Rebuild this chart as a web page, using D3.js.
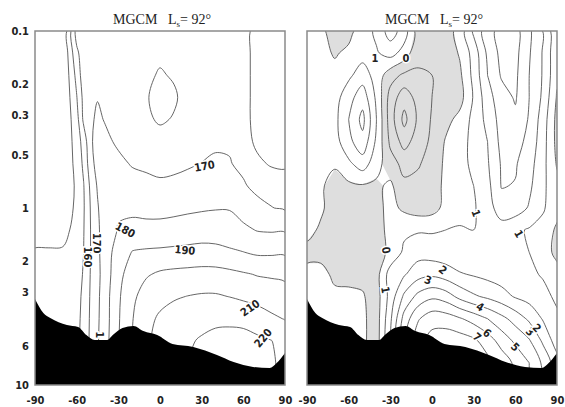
<!DOCTYPE html>
<html>
<head>
<meta charset="utf-8">
<script src="https://cdn.jsdelivr.net/npm/d3@7"></script>
<style>
  body { margin: 0; background: #fff; }
  .tick text, .lab { font-family: "Liberation Sans Narrow", "DejaVu Sans Condensed", sans-serif; font-weight: bold; }
  .title { font-family: "Liberation Serif", "DejaVu Serif", serif; }
</style>
</head>
<body>
<svg id="chart" width="565" height="407"></svg>
<script>
// grid columns (latitude) and rows (pressure, hPa)
var latL = [-90, -80, -70, -60, -55, -50, -45, -40, -30, -20, -10, 0, 10, 20, 30, 40, 50, 60, 70, 80, 90];
var latR = [-90, -80, -70, -60, -50, -40, -30, -20, -10, 0, 10, 20, 30, 40, 50, 60, 70, 80, 90];
var pLevels = [0.1, 0.133, 0.178, 0.237, 0.316, 0.422, 0.562, 0.75, 1, 1.33, 1.78, 2.37, 3.16, 4.22, 5.62, 7.5, 10];

// left panel: temperature (K), one row per pressure level
var tempL = [
  [128, 129, 130, 164, 166, 167, 168, 167, 166, 165, 164, 164, 164, 165, 165, 165, 166, 168, 172, 173, 173],
  [129, 129, 130, 158, 165, 167, 168, 167, 166, 165, 163, 162, 163, 164, 165, 165, 166, 168, 172, 173, 173],
  [130, 130, 130, 153, 166, 168, 169, 168, 166, 164, 162, 159, 161, 163, 165, 165, 166, 168, 172, 173, 173],
  [130, 130, 130, 149.5, 163, 168, 169.5, 168, 166, 164, 161, 156, 158.5, 164, 165, 165, 166, 168, 172, 173, 173],
  [131, 131, 131, 146, 162, 168, 172, 169.5, 166, 164, 162, 158.5, 160.8, 163, 165, 165.5, 166.5, 168, 172, 173, 173],
  [131, 131, 131, 144.5, 154, 168, 175, 173, 168, 166, 165, 164.5, 165, 166, 167, 168.5, 169, 168, 171, 172, 172],
  [132, 132, 132, 143, 152, 166, 174, 176, 173, 169, 168, 167.5, 168, 169, 170.2, 171.5, 170.5, 168, 169, 170.5, 171],
  [133, 133, 133, 141.5, 149.5, 162, 171, 175, 176, 175, 173, 171.5, 172, 173, 174, 175, 174, 171, 167.5, 167, 167],
  [134, 134, 134, 142, 149, 160.5, 169, 176, 179, 178.5, 178, 178, 178, 178.5, 179, 179.5, 179.5, 176, 173, 170.3, 169],
  [136, 136, 137, 143, 149.5, 160, 168, 175, 180.5, 182, 182, 182, 183, 184, 185, 185, 184, 182, 179.5, 179, 179],
  [141, 141, 141, 144, 150, 160, 167, 176.5, 183, 190.5, 191.5, 192, 192.5, 193, 193.5, 193, 191.5, 190.2, 188.5, 188.5, 188.5],
  [144, 144, 144, 145, 151, 160.5, 167.5, 174, 187, 195, 199, 201.5, 202.5, 203, 203.5, 203.5, 202.5, 201, 199.5, 199, 198.5],
  [146, 146, 146, 146, 152.5, 161, 168, 175, 188.5, 198, 204, 207, 209, 210.2, 211, 211, 209.8, 208, 206, 204.5, 203],
  [147, 147, 147, 147, 153, 161.5, 168.5, 175, 189, 199.5, 207, 211.5, 214, 216, 217.5, 218.5, 218.5, 218, 216, 212, 209.5],
  [148, 148, 148, 148, 153, 162, 169, 175.5, 189.5, 200, 208, 214, 217, 219, 220.8, 222, 222.5, 222.5, 221.5, 220.2, 217],
  [148, 148, 148, 148, 153, 162, 169, 176, 190, 200, 208, 215, 218, 220, 222, 223.5, 224, 224, 223, 221, 218],
  [148, 148, 148, 148, 153, 162, 169, 176, 190, 200, 208, 215, 218, 220, 222, 223.5, 224, 224, 223, 221, 218]
];

// right panel: difference field (K), negative areas shaded
var diffR = [
  [0.4, 0.2, -0.4, -0.3, 0.5, 1.2, 2.5, 1.5, -0.5, -0.8, -0.5, 0.4, 2.2, 3.6, 4.4, 4.4, 3.2, 1.95, 0.2],
  [0.4, 0.3, -0.1, 0.2, 0.6, 0.9, 1.4, 0.6, -0.8, -1.0, -0.6, 0.1, 1.4, 3.2, 4.3, 4.3, 3.1, 1.9, 0.2],
  [0.4, 0.4, 0.3, 0.8, 1.5, 0.6, -0.6, -1.2, -1.1, -1.0, -0.6, -0.2, 1.3, 3.0, 4.1, 4.2, 3.0, 1.9, 0.2],
  [0.4, 0.5, 0.6, 1.6, 2.6, 0.8, -1.4, -2.6, -1.6, -1.0, -0.5, -0.4, 1.1, 2.6, 3.6, 4.1, 3.0, 1.8, -0.1],
  [0.4, 0.5, 0.7, 2.0, 3.3, 1.0, -1.5, -3.3, -1.8, -0.9, -0.3, 0.3, 1.3, 2.3, 3.4, 3.8, 2.9, 1.5, -0.3],
  [0.3, 0.4, 0.6, 1.7, 2.7, 0.8, -1.2, -2.4, -1.5, -0.8, 0.1, 0.6, 1.3, 2.0, 3.3, 3.4, 2.7, 1.4, -0.3],
  [0.3, 0.2, 0.1, 0.8, 1.5, 0.4, -0.6, -1.3, -1.1, -0.6, 0.2, 0.7, 1.2, 1.9, 3.1, 3.1, 2.4, 1.3, -0.1],
  [0.3, 0.1, -0.3, -0.2, -0.1, -0.2, 0.2, -0.8, -0.7, -0.4, 0.2, 0.6, 1.0, 1.7, 3.05, 2.95, 2.2, 1.2, 0.3],
  [0.2, 0.1, -0.3, -0.4, -0.3, -0.3, 0.3, -0.2, -0.5, -0.4, 0.3, 0.6, 0.9, 1.5, 2.6, 2.5, 1.9, 1.1, 0.4],
  [0.2, -0.1, -0.4, -0.5, -0.4, -0.4, 0.3, 0.8, 0.9, 0.9, 1.0, 1.1, 1.0, 1.2, 1.5, 1.2, 0.9, 0.7, -0.2],
  [-0.2, -0.3, -0.5, -0.5, -0.4, -0.4, 0.2, 1.2, 1.6, 1.5, 1.4, 1.2, 1.1, 1.1, 1.1, 1.1, 1.0, 0.5, -0.3],
  [0.2, 0.3, -0.2, -0.4, -0.3, -0.4, 1.5, 1.9, 2.6, 2.8, 2.5, 2.1, 1.9, 1.7, 1.5, 1.4, 1.2, 0.9, 0.4],
  [0.4, 0.3, 0.2, 0.3, 0.1, -0.5, 1.4, 3.2, 4.3, 4.8, 4.5, 3.7, 3.15, 2.8, 2.4, 1.9, 1.6, 1.3, 0.8],
  [0.4, 0.4, 0.3, 0.4, 0.2, -0.5, 1.8, 4.4, 5.9, 6.6, 6.5, 6.1, 5.6, 5.0, 4.3, 3.6, 2.8, 1.9, 1.2],
  [0.4, 0.4, 0.4, 0.4, 0.2, -0.5, 2.0, 5.0, 6.6, 7.4, 7.6, 7.5, 7.2, 6.5, 5.6, 4.8, 4.1, 2.8, 1.5],
  [0.4, 0.4, 0.4, 0.4, 0.2, -0.5, 2.0, 5.0, 6.8, 7.6, 8.0, 8.0, 7.8, 7.3, 6.6, 5.8, 5.0, 3.8, 2.4],
  [0.4, 0.4, 0.4, 0.4, 0.2, -0.5, 2.0, 5.0, 6.8, 7.6, 8.0, 8.0, 7.8, 7.3, 6.6, 5.8, 5.0, 3.8, 2.4]
];

var tempLevels = [140, 150, 160, 170, 180, 190, 200, 210, 220];
var diffLevels = [-3, -2, -1, 0, 1, 2, 3, 4, 5, 6, 7];

// surface pressure along latitude
var topoLat = [-90, -84, -79, -67, -59, -53, -47, -38, -34, -27, -19, -12, -2, 9, 24, 41, 53, 67, 79, 84, 90];
var topoP = [3.27, 3.92, 4.18, 4.58, 4.70, 5.22, 5.57, 5.57, 5.22, 4.77, 4.64, 4.96, 5.22, 5.86, 6.09, 6.77, 7.42, 7.91, 8.02, 7.52, 6.59];

// contour labels
var tempLabLat = [32, -25, -45.4, -51.8, 18, 64.8, 74.2, -43.2];
var tempLabP = [0.58, 1.33, 1.58, 1.89, 1.73, 3.67, 5.42, 5.2];
var tempLabText = ["170", "180", "170", "160", "190", "210", "220", "1"];
var tempLabAngle = [-10, 28, 90, 90, 5, -35, -50, 90];

var diffLabLat = [-41, -18.7, -33, -33.5, 7.9, -2.9, 34.6, 39.6, 32.4, 59.8, 70.6, 75.6, 31.7, 62.5];
var diffLabP = [0.142, 0.142, 1.73, 2.9, 2.24, 2.55, 3.62, 5.08, 5.36, 6.1, 5.0, 4.76, 1.07, 1.4];
var diffLabText = ["1", "0", "0", "1", "2", "3", "4", "6", "7", "5", "3", "2", "1", "1"];
var diffLabAngle = [0, 0, 80, 80, 40, 20, 30, 40, 40, 45, 45, 45, 70, 60];

var yTicks = [0.1, 0.2, 0.3, 0.5, 1, 2, 3, 6, 10];
var xTicks = [-90, -60, -30, 0, 30, 60, 90];

var svg = d3.select("#chart");
var yTop = 31, yBottom = 385;
var yScale = d3.scaleLog().domain([0.1, 10]).range([yTop, yBottom]);

function drawPanel(px0, px1, id, lats, rows, levels, shade, labLat, labP, labText, labAngle, showY) {
    var x = d3.scaleLinear().domain([-90, 90]).range([px0, px1]);
    var nx = lats.length, ny = rows.length;
    // grid index -> screen position (value i sits at i + 0.5)
    var gx = d3.scaleLinear().domain(d3.range(nx).map(function(i) { return i + 0.5; })).range(lats.map(x));
    var gy = d3.scaleLinear().domain(d3.range(ny).map(function(j) { return j + 0.5; })).range(pLevels.map(yScale));
    var flat = [].concat.apply([], rows);

    svg.append("clipPath").attr("id", id)
        .append("rect").attr("x", px0).attr("y", yTop).attr("width", px1 - px0).attr("height", yBottom - yTop);

    var g = svg.append("g").attr("clip-path", "url(#" + id + ")");

    // shaded negative areas
    if (shade) {
        var neg = d3.contours().size([nx, ny]).thresholds([0])(flat.map(function(v) { return -v; }));
        var proj = d3.geoTransform({ point: function(a, b) { this.stream.point(gx(a), gy(b)); } });
        g.append("path")
            .attr("d", d3.geoPath(proj)(neg[0]))
            .attr("fill", "#dedede");
    }

    // contour lines, boundary pieces removed
    var onB = function(p) { return p[0] <= 0 || p[0] >= nx || p[1] <= 0 || p[1] >= ny; };
    var open = d3.line().curve(d3.curveCatmullRom.alpha(0.5));
    var closed = d3.line().curve(d3.curveCatmullRomClosed.alpha(0.5));
    var paths = [];
    d3.contours().size([nx, ny]).thresholds(levels)(flat).forEach(function(c) {
        c.coordinates.forEach(function(poly) {
            poly.forEach(function(ring) {
                var pts = ring.slice(0, ring.length - 1);
                var n = pts.length;
                var s = -1;
                for (var i = 0; i < n; i++) { if (onB(pts[i])) { s = i; break; } }
                var xy = function(p) { return [gx(p[0]), gy(p[1])]; };
                if (s < 0) {
                    paths.push(closed(pts.map(xy)));
                    return;
                }
                var run = [];
                for (var k = 0; k < n; k++) {
                    var a = pts[(s + k) % n], b = pts[(s + k + 1) % n];
                    if (onB(a) && onB(b)) {
                        if (run.length > 1) paths.push(open(run));
                        run = [];
                    } else {
                        if (!run.length) run.push(xy(a));
                        run.push(xy(b));
                    }
                }
                if (run.length > 1) paths.push(open(run));
            });
        });
    });
    g.selectAll("path.c").data(paths).enter().append("path")
        .attr("class", "c")
        .attr("d", function(d) { return d; })
        .attr("fill", "none")
        .attr("stroke", "#555")
        .attr("stroke-width", 0.9);

    // contour labels with a white halo that breaks the line
    g.selectAll("text.lab").data(labText).enter().append("text")
        .attr("class", "lab")
        .attr("transform", function(d, i) {
            return "translate(" + x(labLat[i]) + "," + yScale(labP[i]) + ") rotate(" + labAngle[i] + ")";
        })
        .attr("text-anchor", "middle")
        .attr("dy", "0.35em")
        .attr("font-size", 11)
        .attr("fill", "#222")
        .attr("stroke", "#fff")
        .attr("stroke-width", 3)
        .attr("paint-order", "stroke")
        .text(function(d) { return d; });

    // surface
    var area = d3.area()
        .x(function(d, i) { return x(topoLat[i]); })
        .y0(yBottom)
        .y1(function(d) { return yScale(d); })
        .curve(d3.curveMonotoneX);
    g.append("path").attr("d", area(topoP)).attr("fill", "#000");

    // frame
    svg.append("rect")
        .attr("x", px0).attr("y", yTop).attr("width", px1 - px0).attr("height", yBottom - yTop)
        .attr("fill", "none").attr("stroke", "#8a8a8a").attr("stroke-width", 1.5);

    var xAxis = svg.append("g").attr("transform", "translate(0," + yBottom + ")")
        .call(d3.axisBottom(x).tickValues(xTicks).tickFormat(function(d) { return String(d); }).tickSize(0).tickPadding(11));
    xAxis.select(".domain").remove();
    xAxis.selectAll("text").attr("font-size", 11).attr("fill", "#222");

    if (showY) {
        var yAxis = svg.append("g").attr("transform", "translate(" + px0 + ",0)")
            .call(d3.axisLeft(yScale).tickValues(yTicks).tickFormat(function(d) { return String(d); }).tickSize(0).tickPadding(6));
        yAxis.select(".domain").remove();
        yAxis.selectAll("text").attr("font-size", 11).attr("fill", "#222");
    }

    // title
    var cx = (px0 + px1) / 2 - 47;
    var t = svg.append("text").attr("class", "title").attr("y", 24)
        .attr("font-size", 14).attr("fill", "#222");
    t.append("tspan").attr("x", cx).text("MGCM");
    t.append("tspan").attr("x", cx + 55).text("L");
    t.append("tspan").attr("dy", 3).attr("font-size", 9).text("s");
    t.append("tspan").attr("x", cx + 67).attr("dy", -3).text("= 92°");
}

drawPanel(35, 285, "clipL", latL, tempL, tempLevels, false, tempLabLat, tempLabP, tempLabText, tempLabAngle, true);
drawPanel(307, 557, "clipR", latR, diffR, diffLevels, true, diffLabLat, diffLabP, diffLabText, diffLabAngle, false);
</script>
</body>
</html>
